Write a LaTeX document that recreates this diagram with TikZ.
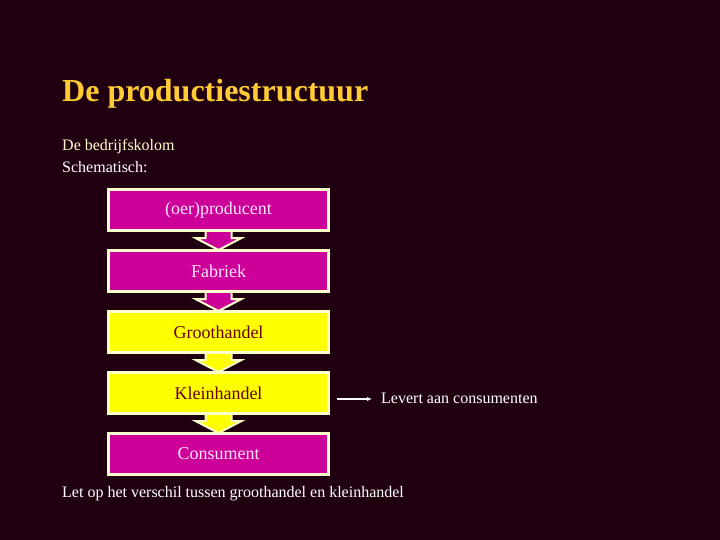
\documentclass[tikz,border=0pt]{standalone}
\usepackage{fontspec}
\setmainfont{Liberation Serif}
\usetikzlibrary{arrows.meta, positioning, calc}

\definecolor{bgcol}{HTML}{200010}
\definecolor{magentabox}{HTML}{CC0099}
\definecolor{yellowbox}{HTML}{FFFF00}
\definecolor{cream}{HTML}{FFFFCC}
\definecolor{gold}{HTML}{FFCC33}
\definecolor{pinktext}{HTML}{FFE6FF}
\definecolor{darktext}{HTML}{660000}

\begin{document}
\begin{tikzpicture}[
    x=1pt, y=-1pt,
    node distance=17pt,
    box/.style={rectangle, draw=cream, line width=3pt, minimum width=220pt, minimum height=41pt, align=center, font=\fontsize{18}{20}\selectfont},
    pinkbox/.style={box, fill=magentabox, text=pinktext},
    yelbox/.style={box, fill=yellowbox, text=darktext},
    label/.style={anchor=base west, inner sep=0pt, font=\fontsize{16}{18}\selectfont},
    flow/.style={draw=cream, line width=2pt, line join=miter, to path={
        ($(\tikztostart.south)+(-13,0)$) -- ($(\tikztostart.south)+(-13,6)$) -- ($(\tikztostart.south)+(-23,6)$)
        -- ($(\tikztotarget.north)+(0,1)$) -- ($(\tikztostart.south)+(23,6)$) -- ($(\tikztostart.south)+(13,6)$) -- ($(\tikztostart.south)+(13,0)$)}},
    arrow/.style={-{Latex[length=5pt, width=4.5pt]}, white, line width=1.5pt}
]
    \fill[bgcol] (0,0) rectangle (720,540);
    \useasboundingbox (0,0) rectangle (720,540);

    % Heading and text
    \node[label, text=gold, font=\fontsize{32}{35}\selectfont\bfseries] (title) at (62,102) {De productiestructuur};
    \node[label, text=cream] (kolom) at (62,151) {De bedrijfskolom};
    \node[label, text=white] (schema) at (62,173) {Schematisch:};

    % Column
    \node[pinkbox] (prod) at (218.5,210) {(oer)producent};
    \node[pinkbox, below=of prod] (fab) {Fabriek};
    \node[yelbox, below=of fab] (groot) {Groothandel};
    \node[yelbox, below=of groot] (klein) {Kleinhandel};
    \node[pinkbox, below=of klein] (cons) {Consument};

    \draw[flow, fill=magentabox] (prod) to (fab);
    \draw[flow, fill=magentabox] (fab) to (groot);
    \draw[flow, fill=yellowbox] (groot) to (klein);
    \draw[flow, fill=yellowbox] (klein) to (cons);

    % Side note
    \coordinate (lv) at ($(klein.east)+(7,6)$);
    \node[label, text=white] (levert) at ($(klein.east)+(51,10)$) {Levert aan consumenten};
    \draw[arrow, shorten >=9pt] (lv) -- (lv -| levert.west);

    \node[label, text=white] (note) at (62,497) {Let op het verschil tussen groothandel en kleinhandel};
\end{tikzpicture}
\end{document}
